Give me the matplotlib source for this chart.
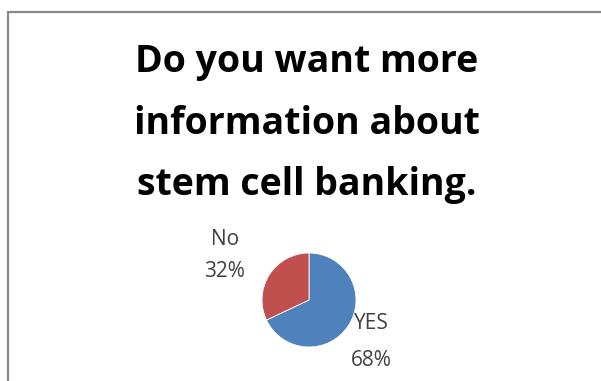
import matplotlib.pyplot as plt
from matplotlib.patches import Rectangle

title_lines = ["Do you want more", "information about", "stem cell banking."]
labels = ["YES", "No"]
shares = [68, 32]
colors = ["#4F81BD", "#C0504D"]

# label placement in pie-radius units, and line gap, per slice
label_pos = [(1.32, -0.89), (-1.79, 0.95)]
label_gap = [2.0, 1.7]

W, H = 601, 381
fig = plt.figure(figsize=(W / 100, H / 100), dpi=100)
fig.patch.set_facecolor("white")

# chart area border (runs off right and bottom edges)
fig.patches.append(Rectangle((8 / W, -0.05), 1.1, 1 - 12 / H + 0.05,
                             transform=fig.transFigure, fill=False,
                             edgecolor="#8a8a8a", linewidth=1.6))

# title, one line at a time so the baselines sit where the reference has them
for i, line in enumerate(title_lines):
    fig.text(307 / W, 1 - (72 + 61.5 * i) / H, line, ha="center", va="baseline",
             fontsize=27, fontweight="bold", family="Open Sans", color="black")

cx, cy, r = 309, 300, 47
ax = fig.add_axes([(cx - r) / W, (H - cy - r) / H, 2 * r / W, 2 * r / H])
wedges, _ = ax.pie(shares, colors=colors, startangle=90, counterclock=False,
                   radius=1, wedgeprops=dict(linewidth=0.6, edgecolor="white"))
ax.set_xlim(-1, 1)
ax.set_ylim(-1, 1)
ax.set_aspect("equal")
ax.axis("off")

for lab, val, (x, y), gap in zip(labels, shares, label_pos, label_gap):
    ax.text(x, y, f"{lab}\n{val}%", ha="center", va="center", fontsize=15,
            family="Open Sans", color="#404040", linespacing=gap, clip_on=False)

fig.savefig("out.png", dpi=100, facecolor="white")
